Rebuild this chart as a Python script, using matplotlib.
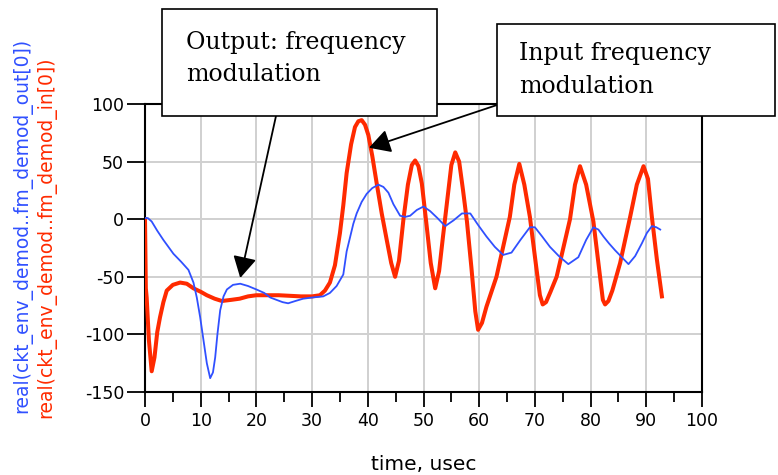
import matplotlib.pyplot as plt
import numpy as np

plt.rcParams["axes.unicode_minus"] = False

# fm demod transient, time in usec
t_in = [0, 0.15, 0.3, 0.7, 1.2, 1.7, 2.2, 2.7, 3.3, 3.9, 5.0, 6.3, 7.5, 8.7, 10.0, 11.1, 12.5, 13.8,
        15.5, 17.0, 18.5, 20.0, 22.0, 24.0, 26.0, 28.0, 30.0, 31.4, 32.3, 33.2, 34.1, 35.0, 35.6, 36.2,
        37.0, 37.7, 38.3, 38.9, 39.5, 40.1, 40.8, 41.6, 42.5, 43.4, 44.2, 44.9, 45.6, 46.4, 47.2, 47.9,
        48.5, 49.1, 49.7, 50.5, 51.3, 52.1, 52.8, 53.5, 54.3, 55.0, 55.7, 56.4, 57.1, 57.8, 58.6, 59.3,
        59.8, 60.5, 61.3, 62.2, 63.1, 64.3, 65.5, 66.3, 67.2, 68.1, 69.1, 70.2, 70.9, 71.4, 72.0, 72.8,
        73.9, 75.1, 76.3, 77.2, 78.1, 79.2, 80.5, 81.7, 82.2, 82.6, 83.2, 83.9, 85.3, 86.2, 87.1, 88.3,
        89.5, 90.3, 91.0, 91.9, 92.8]
fm_in = [0, -60, -68, -105, -132, -120, -98, -85, -72, -62, -57, -55, -56, -60, -63, -66, -69, -71,
         -70, -69, -67, -66, -66, -66, -66.5, -67, -67, -66, -62, -55, -40, -12, 12, 40,
         65, 80, 85, 86, 82, 73, 55, 31, 5, -18, -38, -50, -36, 0, 30, 47,
         51, 46, 31, -3, -38, -60, -45, -15, 18, 47, 58, 50, 25, -2, -42, -80,
         -96, -90, -76, -63, -50, -24, 2, 30, 48, 30, 2, -40, -66, -74, -72, -63,
         -50, -25, 0, 30, 46, 30, -2, -50, -70, -74, -71, -62, -38, -18, 2, 30,
         46, 35, 2, -35, -67]

t_out = [0, 0.5, 1.2, 2.2, 3.3, 4.2, 5.1, 6.5, 7.8, 8.7, 9.3, 9.9, 10.5, 11.1, 11.7, 12.2, 12.6, 13.0,
         13.5, 14.1, 14.7, 15.8, 17.1, 18.5, 20.0, 21.4, 22.5, 23.6, 24.7, 25.7, 27.0, 28.4, 30.0, 32.0,
         33.2, 34.4, 35.6, 36.2, 37.0, 37.4, 38.0, 38.9, 39.8, 40.8, 41.9, 42.8, 43.7, 44.6, 45.8, 46.7,
         47.6, 48.8, 50.0, 51.2, 52.5, 53.9, 55.4, 56.9, 58.4, 59.8, 61.3, 62.8, 64.3, 65.8, 67.4, 69.1,
         70.0, 71.3, 72.7, 74.3, 76.0, 77.8, 79.2, 80.5, 81.4, 82.3, 83.3, 84.4, 85.6, 86.8, 88.0, 89.2,
         90.1, 91.0, 91.8, 92.5]
fm_out = [1, 1, -2, -10, -18, -24, -30, -37, -44, -55, -68, -85, -105, -125, -138, -133, -120, -100,
          -79, -67, -61, -57, -56, -58, -61, -64, -68, -70, -72, -73, -71, -69, -68, -67,
          -64, -58, -48, -28, -12, -4, 5, 15, 22, 27, 30, 28, 23, 13, 3, 2,
          3, 8, 11, 7, 1, -6, -1, 5, 5, -5, -15, -24, -31, -29, -18, -7,
          -7, -15, -24, -32, -39, -33, -18, -7, -9, -15, -21, -27, -33, -39, -32, -21,
          -12, -6, -7, -9]

xticks = np.arange(0, 101, 10)
yticks = np.arange(-150, 101, 50)

W, H = 778, 475
red = "#ff2a00"
blue = "#3050ff"

fig = plt.figure(figsize=(W / 100, H / 100), dpi=100)
ax = fig.add_axes([145 / W, 1 - 392 / H, (702 - 145) / W, (392 - 104) / H])

ax.plot(t_in, fm_in, color=red, lw=2.9, zorder=3)
ax.plot(t_out, fm_out, color=blue, lw=1.3, zorder=4)

ax.set_xlim(0, 100)
ax.set_ylim(-150, 100)
ax.set_xticks(xticks)
ax.set_xticks(np.arange(5, 100, 10), minor=True)
ax.set_yticks(yticks)
ax.grid(True, color="#d0d0d0", lw=1.4)
ax.set_axisbelow(True)
for s in ax.spines.values():
    s.set_linewidth(1.5)
ax.tick_params(axis="x", which="major", direction="out", length=11, width=1.3,
               labelsize=12.5, pad=3.5)
ax.tick_params(axis="y", which="major", direction="out", length=13, width=1.3,
               labelsize=12.5, pad=2)
ax.tick_params(axis="x", which="minor", direction="out", length=7, width=1.3)

ax.set_xlabel("time, usec", fontsize=14.5, labelpad=18)

fig.text(22 / W, 1 - 413 / H, "real(ckt_env_demod..fm_demod_out[0])", color=blue,
         rotation=90, ha="center", va="bottom", fontsize=13.5)
fig.text(46 / W, 1 - 418 / H, "real(ckt_env_demod..fm_demod_in[0])", color=red,
         rotation=90, ha="center", va="bottom", fontsize=13.5)

# callout boxes
for x0, y0, x1, y1 in [(162, 9, 437, 116), (497, 24, 775, 116)]:
    r = plt.Rectangle((x0 / W, 1 - y1 / H), (x1 - x0) / W, (y1 - y0) / H,
                      transform=fig.transFigure, facecolor="white", edgecolor="black",
                      lw=1.2, zorder=5)
    fig.add_artist(r)

fig.text(186 / W, 1 - 49 / H, "Output: frequency", fontsize=17, family="DejaVu Serif",
         va="baseline", zorder=6)
fig.text(186 / W, 1 - 81 / H, "modulation", fontsize=17, family="DejaVu Serif",
         va="baseline", zorder=6)
fig.text(519 / W, 1 - 60 / H, "Input frequency", fontsize=17, family="DejaVu Serif",
         va="baseline", zorder=6)
fig.text(519 / W, 1 - 93 / H, "modulation", fontsize=17, family="DejaVu Serif",
         va="baseline", zorder=6)

arrow = dict(arrowstyle="-|>,head_length=0.65,head_width=0.36", mutation_scale=20,
             color="black", lw=1.3, shrinkA=0, shrinkB=0)
ax.annotate("", xy=(17.1, -51), xycoords="data", xytext=(276, H - 116),
            textcoords="figure pixels", arrowprops=arrow, annotation_clip=False)
ax.annotate("", xy=(40.2, 62), xycoords="data", xytext=(497, H - 105),
            textcoords="figure pixels", arrowprops=arrow, annotation_clip=False)

plt.savefig("out.png", dpi=100)
